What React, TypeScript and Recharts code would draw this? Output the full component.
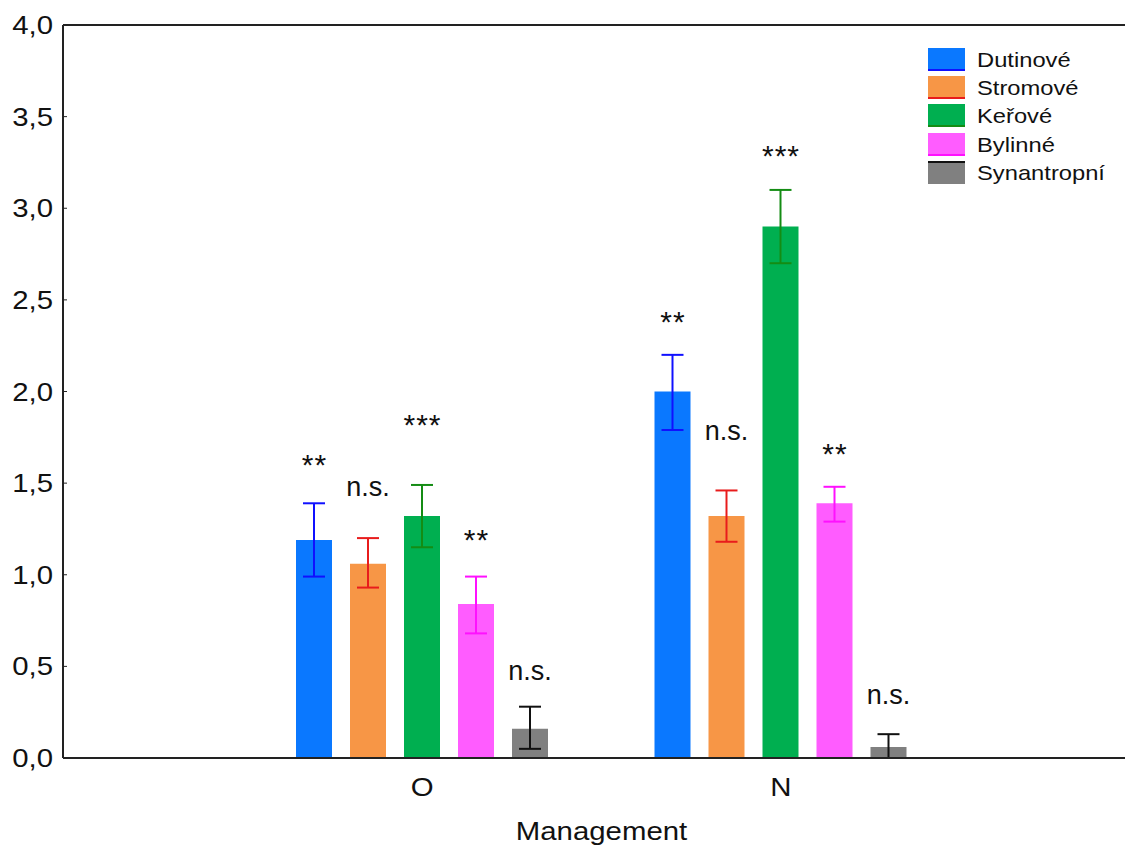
import { Bar, BarChart, ErrorBar, LabelList, ReferenceLine, XAxis, YAxis } from "recharts";

// Management groups on the x axis
const groups = ["O", "N"];

// guild names, in drawing order
const guilds = ["Dutinové", "Stromové", "Keřové", "Bylinné", "Synantropní"];

// mean per guild, one entry per group (O, N)
const dutinove = [1.19, 2.0];
const stromove = [1.06, 1.32];
const kerove = [1.32, 2.9];
const bylinne = [0.84, 1.39];
const synantropni = [0.16, 0.06];

// lower / upper end of the error bars
const dutinoveLow = [0.99, 1.79];
const dutinoveHigh = [1.39, 2.2];
const stromoveLow = [0.93, 1.18];
const stromoveHigh = [1.2, 1.46];
const keroveLow = [1.15, 2.7];
const keroveHigh = [1.49, 3.1];
const bylinneLow = [0.68, 1.29];
const bylinneHigh = [0.99, 1.48];
const synantropniLow = [0.05, 0.0];
const synantropniHigh = [0.28, 0.13];

// significance marks per guild, per group
const sigO = ["**", "n.s.", "***", "**", "n.s."];
const sigN = ["**", "n.s.", "***", "**", "n.s."];

const yTicks = [0, 0.5, 1, 1.5, 2, 2.5, 3, 3.5, 4];

const means = [dutinove, stromove, kerove, bylinne, synantropni];
const lows = [dutinoveLow, stromoveLow, keroveLow, bylinneLow, synantropniLow];
const highs = [dutinoveHigh, stromoveHigh, keroveHigh, bylinneHigh, synantropniHigh];
const sigs = [sigO, sigN];

const FILL = ["#0a78ff", "#f79646", "#00af50", "#ff5cff", "#808080"];
const ERR = ["#1010ff", "#e81c1c", "#148c14", "#ff10ff", "#111111"];
// how far above the error bar top each mark's baseline sits (px), [group][guild]
const SIG_LIFT = [
  [28, 42, 50, 27, 27],
  [23, 50, 24, 23, 30],
];

const FONT = "'Liberation Sans', Arial, Helvetica, sans-serif";
// the text in this figure is set a little wide
const SX = 1.13;

const data = groups.map((g, gi) => {
  const row: Record<string, unknown> = { name: g };
  guilds.forEach((k, i) => {
    const m = means[i][gi];
    row[k] = m;
    row[k + "_err"] = [m - lows[i][gi], highs[i][gi] - m];
    row[k + "_sig"] = sigs[gi][i];
    row[k + "_hi"] = highs[i][gi];
  });
  return row;
});

const fmt = (v: number) => v.toFixed(1).replace(".", ",");

function WideText({ x, y, anchor, size, children, spacing }: any) {
  return (
    <text
      transform={`translate(${x},${y}) scale(${SX},1)`}
      textAnchor={anchor}
      fontSize={size}
      letterSpacing={spacing}
      fontFamily={FONT}
      fill="#111"
    >
      {children}
    </text>
  );
}

// y tick: label right-aligned left of the axis, short mark inside the plot
function YTick({ x, y, payload }: any) {
  return (
    <g>
      <line x1={x + 8} x2={x + 12} y1={y} y2={y} stroke="#222" strokeWidth={1} />
      <WideText x={x - 2} y={y + 9} anchor="end" size={26}>
        {fmt(payload.value)}
      </WideText>
    </g>
  );
}

function XTick({ x, y, payload }: any) {
  return (
    <WideText x={x} y={y + 30} anchor="middle" size={26}>
      {payload.value}
    </WideText>
  );
}

function AxisTitle({ viewBox }: any) {
  const { x, y, width, height } = viewBox;
  return (
    <WideText x={x + width / 2} y={y + height - 6} anchor="middle" size={26}>
      Management
    </WideText>
  );
}

const sigLabel = (si: number) => (props: any) => {
  const vb = props.viewBox ?? props;
  const { x, y, width, height } = vb;
  const idx = props.index ?? 0;
  const row = data[idx] as any;
  const key = guilds[si];
  const val = row[key] as number;
  const hi = row[key + "_hi"] as number;
  const pxPerUnit = height / val;
  const errTop = y + height - hi * pxPerUnit;
  const text = row[key + "_sig"] as string;
  const isStar = text.startsWith("*");
  const ls = isStar ? 1 : 0;
  return (
    <text
      x={x + width / 2 + ls / 2}
      y={errTop - SIG_LIFT[idx][si]}
      textAnchor="middle"
      fontSize={isStar ? 30 : 27}
      letterSpacing={ls}
      fontFamily={FONT}
      fill="#111"
    >
      {text}
    </text>
  );
};

function GuildLegend() {
  return (
    <div
      style={{
        position: "absolute",
        left: 928,
        top: 45,
        fontFamily: FONT,
        fontSize: 21,
        color: "#111",
      }}
    >
      {guilds.map((k, i) => (
        <div key={k} style={{ display: "flex", alignItems: "center", height: 28.3 }}>
          <div
            style={{
              width: 37,
              height: 23,
              background: FILL[i],
              boxSizing: "border-box",
              borderBottom: i < 4 ? `2px solid ${ERR[i]}` : undefined,
              borderTop: i === 4 ? `2px solid ${ERR[i]}` : undefined,
              marginRight: 12,
              flex: "none",
            }}
          />
          <span
            style={{
              lineHeight: "23px",
              display: "inline-block",
              transform: `scaleX(${SX})`,
              transformOrigin: "left center",
              whiteSpace: "nowrap",
            }}
          >
            {k}
          </span>
        </div>
      ))}
    </div>
  );
}

export default function App() {
  return (
    <div
      style={{
        position: "absolute",
        left: 0,
        top: 0,
        width: 1125,
        height: 846,
        overflow: "hidden",
        background: "#fff",
      }}
    >
      <BarChart
        width={1150}
        height={846}
        data={data}
        margin={{ top: 25, right: 10, bottom: 0, left: 0 }}
        barSize={36}
        barGap={18}
      >
        <XAxis
          dataKey="name"
          height={88}
          padding={{ left: 180, right: 180 }}
          tickLine={false}
          axisLine={{ stroke: "#222", strokeWidth: 2 }}
          tick={<XTick />}
          label={<AxisTitle />}
        />
        <YAxis
          width={63}
          domain={[0, 4]}
          ticks={yTicks}
          interval={0}
          tickLine={false}
          axisLine={{ stroke: "#222", strokeWidth: 2 }}
          tick={<YTick />}
        />
        <ReferenceLine y={4} stroke="#222" strokeWidth={2} />
        {guilds.map((k, i) => (
          <Bar key={k} dataKey={k} fill={FILL[i]} isAnimationActive={false}>
            <ErrorBar dataKey={k + "_err"} direction="y" width={11} stroke={ERR[i]} strokeWidth={2} />
            <LabelList dataKey={k + "_sig"} content={sigLabel(i)} />
          </Bar>
        ))}
      </BarChart>
      <GuildLegend />
    </div>
  );
}
